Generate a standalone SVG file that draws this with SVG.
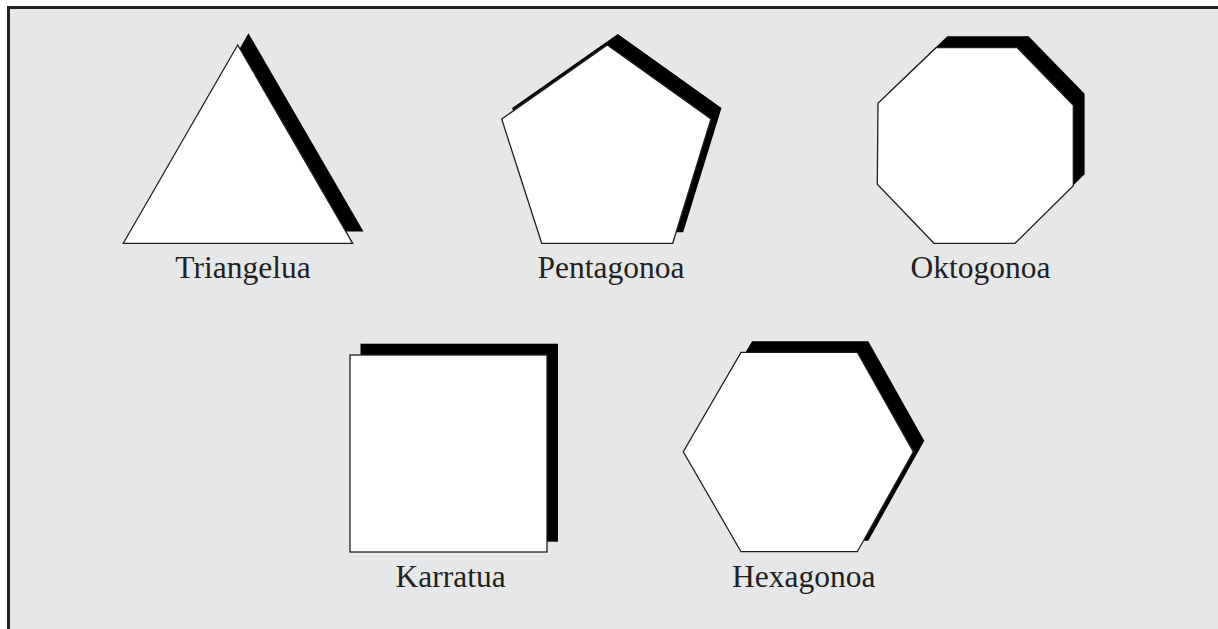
<svg xmlns="http://www.w3.org/2000/svg" width="1218" height="629" viewBox="0 0 1218 629">
<style>
.sh{fill:#000;stroke:none}
.fg{fill:#fff;stroke:#231f20;stroke-width:1.3}
.lb{font-family:"Liberation Serif","Times New Roman",serif;font-size:31.5px;fill:#231f20;text-anchor:middle}
</style>
<rect x="0" y="0" width="1218" height="629" fill="#fff"/>
<rect x="8.5" y="7.5" width="1215" height="630" fill="#e6e7e9" stroke="#231f20" stroke-width="3"/>
<g id="triangelua">
<polygon class="sh" transform="translate(10.8,-11.7)" points="237.7,45 352.7,243.3 123.3,243.3"/>
<polygon class="fg" points="237.7,45 352.7,243.3 123.3,243.3"/>
<text class="lb" x="243" y="278.3">Triangelua</text>
</g>
<g id="pentagonoa">
<polygon class="sh" transform="translate(10.5,-11)" points="607.3,45 711,119 672.7,243.3 541.7,243.3 501.7,119"/>
<polygon class="fg" points="607.3,45 711,119 672.7,243.3 541.7,243.3 501.7,119"/>
<text class="lb" x="611" y="278.3">Pentagonoa</text>
</g>
<g id="oktogonoa">
<polygon class="sh" transform="translate(11.3,-11.5)" points="936,47.7 1017.3,47.7 1073.3,105.3 1073.3,185.7 1015,243.3 934,243.3 877.3,184.3 878,103.3"/>
<polygon class="fg" points="936,47.7 1017.3,47.7 1073.3,105.3 1073.3,185.7 1015,243.3 934,243.3 877.3,184.3 878,103.3"/>
<text class="lb" x="980.5" y="278.3">Oktogonoa</text>
</g>
<g id="karratua">
<rect class="sh" x="360.5" y="343.7" width="197.5" height="198"/>
<rect class="fg" x="350" y="355" width="197" height="197"/>
<text class="lb" x="450.7" y="586.7">Karratua</text>
</g>
<g id="hexagonoa">
<polygon class="sh" transform="translate(11,-11)" points="741,352.3 857.3,352.3 913.3,451.7 857.3,551.7 741,551.7 683.3,451.7"/>
<polygon class="fg" points="741,352.3 857.3,352.3 913.3,451.7 857.3,551.7 741,551.7 683.3,451.7"/>
<text class="lb" x="803.7" y="586.7">Hexagonoa</text>
</g>
<g id="connectors"/>
</svg>
